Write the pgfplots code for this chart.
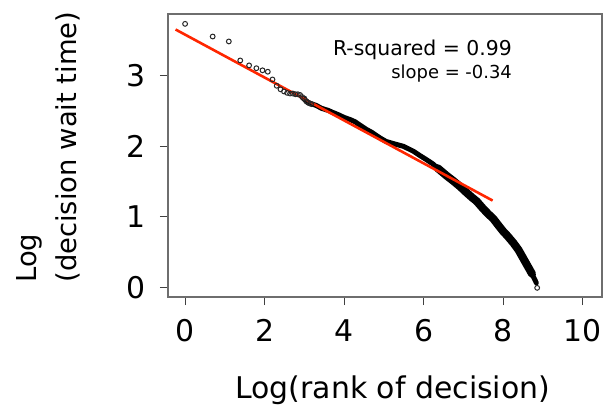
\documentclass[border=0pt]{standalone}
\usepackage{pgfplots}
\pgfplotsset{compat=1.18}
\usepackage{fontspec}
\setmainfont{DejaVu Sans}

\definecolor{fitred}{RGB}{255,38,0}
\definecolor{framegray}{RGB}{110,110,110}

\begin{document}
\begin{tikzpicture}
\begin{axis}[
    width=434bp, height=283bp, scale only axis,
    xmin=-0.43, xmax=10.48, ymin=-0.14, ymax=3.88,
    xtick={0,2,4,6,8,10}, ytick={0,1,2,3},
    xtick pos=bottom, ytick pos=left,
    tick align=outside, major tick length=8bp,
    axis line style={framegray, line width=1.1bp},
    tick style={black!75, line width=1bp},
    /pgf/number format/assume math mode=true,
    ticklabel style={font=\fontsize{30}{30}\selectfont},
    xticklabel style={yshift=-11bp},
    yticklabel style={xshift=-11bp},
    xlabel={Log(rank of decision)},
    ylabel={Log\\(decision wait time)},
    xlabel style={font=\fontsize{30}{30}\selectfont, at={(axis description cs:0.518,-0.277)}, anchor=north, inner sep=0pt},
    ylabel style={font=\fontsize{27.5}{40}\selectfont, align=left, at={(axis description cs:-0.35,0.05)}, anchor=north west, inner sep=0pt},
    clip=false,
]
\coordinate (bl) at (rel axis cs:0,0);
\coordinate (tr) at (rel axis cs:1,1);

% dense part of the rank curve (many overlapping points)
\addplot[black, line width=5bp, line cap=round, line join=round] coordinates {
  (2.97,2.68) (3.1,2.62) (3.2,2.60) (3.3,2.58) (3.43,2.54) (3.6,2.51)
  (3.72,2.48) (3.85,2.45) (4.0,2.41) (4.15,2.38) (4.27,2.35) (4.4,2.30)
  (4.56,2.24) (4.69,2.20) (4.9,2.12) (5.05,2.07) (5.23,2.04) (5.49,2.00)
  (5.74,1.93) (5.9,1.87) (6.07,1.81) (6.23,1.75) (6.41,1.66)
};
\addplot[black, line width=8bp, line cap=round, line join=round] coordinates {
  (6.35,1.69) (6.58,1.58) (6.74,1.51) (6.91,1.43) (7.08,1.34) (7.2,1.28)
  (7.33,1.22) (7.5,1.11) (7.62,1.04) (7.75,0.97) (7.9,0.86) (8.0,0.79)
  (8.1,0.73) (8.25,0.63) (8.38,0.53) (8.5,0.41) (8.62,0.29) (8.72,0.19)
};
\addplot[black, line width=5bp, line cap=round] coordinates {
  (8.68,0.23) (8.78,0.12) (8.83,0.06)
};

% sparse top ranks and last point
\addplot[only marks, mark=o, mark size=2.4bp, black!85, mark options={line width=1bp}] coordinates {
  (0,3.74) (0.693,3.56) (1.099,3.49) (1.386,3.22) (1.609,3.15) (1.792,3.11)
  (1.946,3.08) (2.079,3.06) (2.197,2.95) (2.303,2.86) (2.398,2.81) (2.485,2.78)
  (2.565,2.76) (2.639,2.75) (2.708,2.75) (2.773,2.74) (2.833,2.74) (2.890,2.73)
  (2.944,2.70) (2.996,2.68) (3.045,2.64) (3.091,2.62) (3.135,2.61) (3.178,2.60)
  (8.85,-0.01)
};

% linear fit
\addplot[fitred, line width=2.6bp] coordinates {(-0.24,3.66) (7.73,1.23)};

\node[anchor=east, inner sep=0pt, font=\fontsize{20.5}{20.5}\selectfont] at (axis cs:8.22,3.37) {R-squared = 0.99};
\node[anchor=east, inner sep=0pt, font=\fontsize{18}{18}\selectfont] at (axis cs:8.22,3.04) {slope = -0.34};
\end{axis}
\pgfresetboundingbox
\path[use as bounding box] ([shift={(-168bp,-110bp)}]bl) rectangle ([shift={(13bp,14bp)}]tr);
\end{tikzpicture}
\end{document}
